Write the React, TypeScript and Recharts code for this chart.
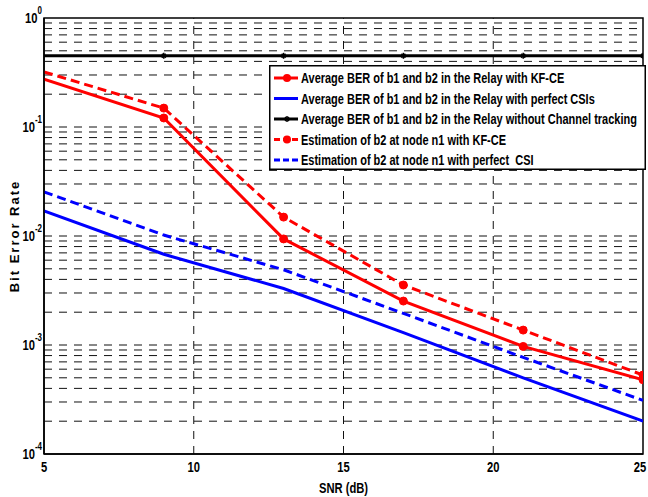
import React from "react";
import {
  LineChart,
  Line,
  XAxis,
  YAxis,
  ReferenceLine,
  ReferenceArea,
  Legend,
} from "recharts";

// SNR points (dB)
const snr = [5, 9, 13, 17, 21, 25];

// BER curves
const berRelayKfce = [0.275, 0.121, 0.0094, 0.00253, 0.00097, 0.00048];
const berRelayPerfect = [0.017, 0.0068, 0.0033, 0.0013, 0.0005, 0.0002];
const berRelayNoTracking = [0.45, 0.45, 0.45, 0.45, 0.45, 0.45];
const estN1Kfce = [0.32, 0.149, 0.0149, 0.00355, 0.00137, 0.00053];
const estN1Perfect = [0.0254, 0.0102, 0.0049, 0.00195, 0.00077, 0.00031];

const xTicks = [5, 10, 15, 20, 25];
const xGrid = [10, 15, 20];
const yTicks = [1e-4, 1e-3, 1e-2, 1e-1, 1];
const yTickExp = ["-4", "-3", "-2", "-1", "0"];
const decades = [1e-4, 1e-3, 1e-2, 1e-1];
const mantissas = [1, 2, 3, 4, 5, 6, 7, 8, 9];

const labels = [
  "Average BER of b1 and b2 in the Relay with KF-CE",
  "Average BER of b1 and b2 in the Relay with perfect CSIs",
  "Average BER of b1 and b2 in the Relay without Channel tracking",
  "Estimation of b2 at node n1 with KF-CE",
  "Estimation of b2 at node n1 with perfect\u00a0 CSI",
];

const FONT = "'Liberation Sans', Arial, sans-serif";

const data = snr.map((s, i) => ({
  snr: s,
  relayKfce: berRelayKfce[i],
  relayPerfect: berRelayPerfect[i],
  relayNoTrack: berRelayNoTracking[i],
  n1Kfce: estN1Kfce[i],
  n1Perfect: estN1Perfect[i],
}));

// horizontal grid at every log decade step, minus the frame edges
const yGrid = decades
  .flatMap((d) => mantissas.map((m) => m * d))
  .filter((v) => v > 1e-4);

const series = [
  { key: "relayKfce", color: "#ff0000", dash: undefined, marker: "circle" },
  { key: "relayPerfect", color: "#0000ff", dash: undefined, marker: "none" },
  { key: "relayNoTrack", color: "#000000", dash: undefined, marker: "star" },
  { key: "n1Kfce", color: "#ff0000", dash: "9 5", marker: "circle" },
  { key: "n1Perfect", color: "#0000ff", dash: "9 5", marker: "none" },
];

function Star({ cx, cy, color }: { cx: number; cy: number; color: string }) {
  const r = 3;
  return (
    <g stroke={color} strokeWidth={1.5}>
      <line x1={cx - r} y1={cy} x2={cx + r} y2={cy} />
      <line x1={cx} y1={cy - r} x2={cx} y2={cy + r} />
      <line x1={cx - 2} y1={cy - 2} x2={cx + 2} y2={cy + 2} />
      <line x1={cx - 2} y1={cy + 2} x2={cx + 2} y2={cy - 2} />
    </g>
  );
}

function makeDot(marker: string, color: string) {
  return (props: any) => {
    const { cx, cy, index } = props;
    if (index === 0 || cx == null) return <g key={`d-${index}`} />;
    if (marker === "star")
      return <Star key={`d-${index}`} cx={cx} cy={cy} color={color} />;
    return (
      <circle key={`d-${index}`} cx={cx} cy={cy} r={4} fill={color} stroke={color} />
    );
  };
}

function XTick(props: any) {
  const { x, y, payload } = props;
  return (
    <g transform={`translate(${x},${y + 18}) scale(0.8,1)`}>
      <text textAnchor="middle" fontFamily={FONT} fontWeight="bold" fontSize={14} fill="#000">
        {payload.value}
      </text>
    </g>
  );
}

function YTick(props: any) {
  const { x, y, payload, index } = props;
  const exp = yTickExp[yTicks.indexOf(payload.value)] ?? yTickExp[index];
  return (
    <g transform={`translate(${x - 2},${y}) scale(0.8,1)`}>
      <text textAnchor="end" y={5} fontFamily={FONT} fontWeight="bold" fontSize={14} fill="#000">
        10
        <tspan dy={-9} fontSize={10}>
          {exp}
        </tspan>
      </text>
    </g>
  );
}

function YLabel(props: any) {
  const vb = props.viewBox || { x: 0, y: 18, width: 44, height: 436 };
  const cx = 19;
  const cy = vb.y + vb.height / 2;
  return (
    <text
      x={cx}
      y={cy}
      transform={`rotate(-90,${cx},${cy})`}
      textAnchor="middle"
      fontFamily={FONT}
      fontWeight="bold"
      fontSize={13}
      letterSpacing={2}
      fill="#000"
    >
      Bit Error Rate
    </text>
  );
}

function XLabel(props: any) {
  const vb = props.viewBox || { x: 44, y: 454, width: 599, height: 43 };
  const cx = vb.x + vb.width / 2;
  return (
    <g transform={`translate(${cx},${vb.y + 39}) scale(0.8,1)`}>
      <text textAnchor="middle" fontFamily={FONT} fontWeight="bold" fontSize={14} fill="#000">
        SNR (dB)
      </text>
    </g>
  );
}

function LegendBox() {
  return (
    <svg width={377} height={105} style={{ display: "block" }}>
      <rect x={0.75} y={0.75} width={375.5} height={103.5} fill="#fff" stroke="#000" strokeWidth={1.5} />
      {series.map((s, i) => {
        const cy = 13 + i * 20.5;
        return (
          <g key={s.key}>
            <line x1={5} y1={cy} x2={29} y2={cy} stroke={s.color} strokeWidth={3} strokeDasharray={s.dash ? "6 3" : undefined} />
            {s.marker === "circle" && <circle cx={18} cy={cy} r={4} fill={s.color} />}
            {s.marker === "star" && <Star cx={18} cy={cy} color={s.color} />}
            <g transform={`translate(32,${cy + 5}) scale(0.785,1)`}>
              <text fontFamily={FONT} fontWeight="bold" fontSize={14} fill="#000">
                {labels[i]}
              </text>
            </g>
          </g>
        );
      })}
    </svg>
  );
}

export default function App() {
  return (
    <div style={{ position: "absolute", left: 0, top: 0, background: "#fff" }}>
      <LineChart width={648} height={497} data={data} margin={{ top: 18, right: 5, bottom: 0, left: 0 }}>
        <XAxis
          dataKey="snr"
          type="number"
          domain={[5, 25]}
          ticks={xTicks}
          tick={<XTick />}
          tickLine={false}
          tickSize={0}
          tickMargin={0}
          height={43}
          axisLine={{ stroke: "#000", strokeWidth: 1.5 }}
          label={<XLabel />}
          allowDataOverflow
        />
        <YAxis
          type="number"
          scale="log"
          domain={[1e-4, 1]}
          ticks={yTicks}
          tick={<YTick />}
          tickLine={false}
          tickSize={0}
          tickMargin={0}
          width={44}
          axisLine={{ stroke: "#000", strokeWidth: 1.5 }}
          label={<YLabel />}
          allowDataOverflow
        />
        {yGrid.map((v) => (
          <ReferenceLine key={`gy-${v}`} y={v} stroke="#111" strokeWidth={1} strokeDasharray="8 7" />
        ))}
        {xGrid.map((v) => (
          <ReferenceLine key={`gx-${v}`} x={v} stroke="#111" strokeWidth={1} strokeDasharray="8 7" />
        ))}
        <ReferenceArea x1={5} x2={25} y1={1e-4} y2={1} fill="none" stroke="#000" strokeWidth={1.5} />
        {series.map((s) => (
          <Line
            key={s.key}
            dataKey={s.key}
            type="linear"
            stroke={s.color}
            strokeWidth={3}
            strokeDasharray={s.dash}
            dot={s.marker === "none" ? false : makeDot(s.marker, s.color)}
            activeDot={false}
            isAnimationActive={false}
          />
        ))}
        <Legend
          layout="vertical"
          align="center"
          verticalAlign="middle"
          content={<LegendBox />}
          wrapperStyle={{ left: 269, top: 65, width: 377, height: 105 }}
        />
      </LineChart>
    </div>
  );
}
